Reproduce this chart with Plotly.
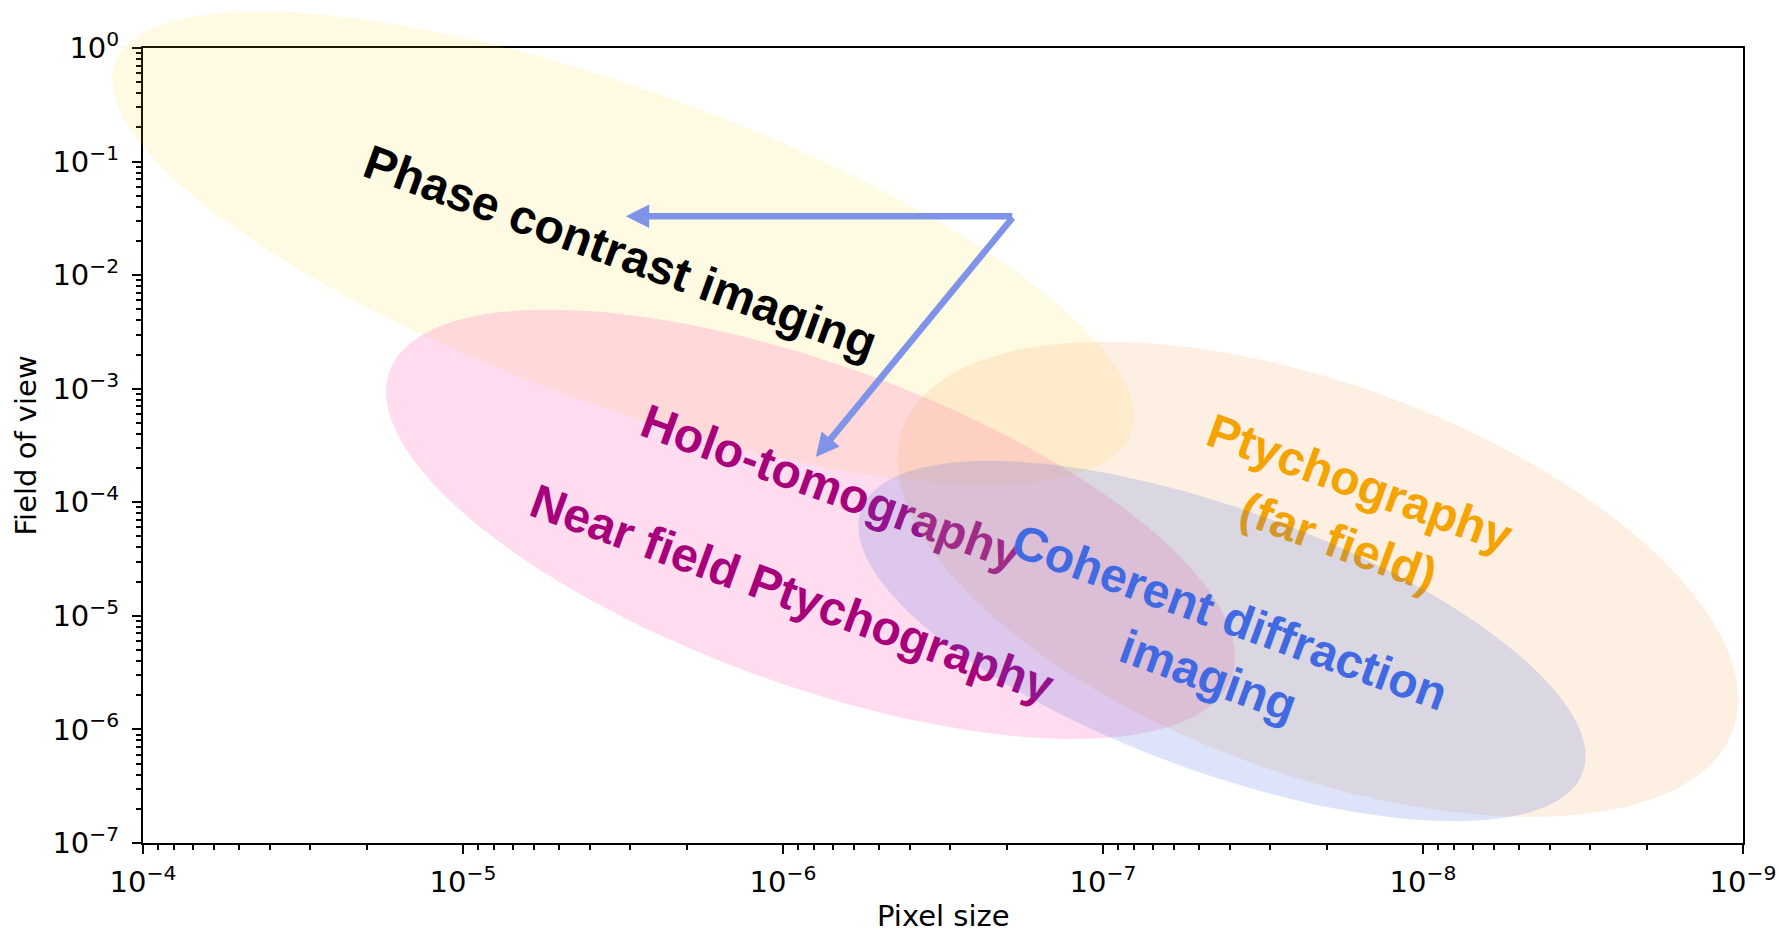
import numpy as np
import plotly.graph_objects as go

# ---- figure geometry (px) -------------------------------------------------
FIG_W, FIG_H = 1779, 932
PLOT_L, PLOT_R, PLOT_T, PLOT_B = 143, 1743, 48, 843

# log10 limits of the two axes
X_LOG = (-4, -9)   # pixel size, finer to the right
Y_LOG = (-7, 0)    # field of view

PX_PER_DEC_X = (PLOT_R - PLOT_L) / abs(X_LOG[1] - X_LOG[0])
PX_PER_DEC_Y = (PLOT_B - PLOT_T) / abs(Y_LOG[1] - Y_LOG[0])

# ---- data -----------------------------------------------------------------
# imaging regimes: centre of each region (pixel size, field of view)
regions = ["Phase contrast", "Holo-tomography / near field", "Far-field ptychography",
           "Coherent diffraction imaging"]
region_pixel = [3.16e-6, 8.2e-7, 2.13e-8, 4.25e-8]
region_fov = [1.73e-2, 6.4e-5, 2.1e-5, 6.0e-6]

# region labels and where they sit
label_text = ["Phase contrast imaging", "Holo-tomography", "Near field Ptychography",
              "Ptychography<br>(far field)", "Coherent diffraction<br>imaging"]
label_pixel = [3.18e-6, 6.98e-7, 9.25e-7, 1.68e-8, 4.28e-8]
label_fov = [1.75e-2, 1.49e-4, 1.73e-5, 8.95e-5, 5.9e-6]

# arrows from the phase-contrast regime
arrow_from = (1.9e-7, 3.3e-2)
arrow_to_pixel = [3.1e-6, 7.9e-7]
arrow_to_fov = [3.3e-2, 2.5e-4]

# decade tick positions (log10)
x_decades = [-4, -5, -6, -7, -8, -9]
y_decades = [-7, -6, -5, -4, -3, -2, -1, 0]

# ---- styles ---------------------------------------------------------------
# semi-axes in screen units of one pixel-size decade, tilt in degrees
region_shape = [(1.69, 0.49, 20), (1.40, 0.50, 20), (1.38, 0.61, 20), (1.20, 0.41, 20)]
region_fill = ["rgba(255,215,0,0.11)", "rgba(255,105,185,0.23)",
               "rgba(244,164,96,0.18)", "rgba(65,105,225,0.18)"]
label_color = ["#000000", "#A8007B", "#A8007B", "#F5A300", "#4169E1"]
label_region = [0, 1, 1, 2, 3]
TEXT_ANGLE = 20
ARROW_COLOR = "#7F93E8"
TICK_FONT = dict(family="DejaVu Sans", size=29, color="black")
TITLE_FONT = dict(family="DejaVu Sans", size=29, color="black")
EPS = 1e-5


def ellipse_path(cx, cy, a, b, angle_deg, n=160):
    """Closed SVG path of a tilted ellipse, in log10 units of the overlay axes."""
    t = np.linspace(0, 2 * np.pi, n, endpoint=False)
    th = np.deg2rad(angle_deg)
    u, v = a * np.cos(t), b * np.sin(t)
    right = u * np.cos(th) - v * np.sin(th)      # towards smaller pixel size
    down = u * np.sin(th) + v * np.cos(th)       # towards smaller field of view
    lx = np.log10(cx) - right
    ly = np.log10(cy) - down * PX_PER_DEC_X / PX_PER_DEC_Y
    pts = [f"{x:.5f},{y:.5f}" for x, y in zip(lx, ly)]
    return "M" + " L".join(pts) + " Z"


def power_label(e):
    return f"10<sup>{'−' if e < 0 else ''}{abs(e)}</sup>"


def minor_vals(decades):
    lo, hi = min(decades), max(decades)
    return [k * 10.0 ** d for d in range(lo, hi) for k in range(2, 10)]


# overlay axes span the whole page with the same log10 scale as the main axes
x2_range = [X_LOG[0] + PLOT_L / PX_PER_DEC_X, X_LOG[0] - (FIG_W - PLOT_L) / PX_PER_DEC_X]
y2_range = [Y_LOG[1] - (FIG_H - PLOT_T) / PX_PER_DEC_Y, Y_LOG[1] + PLOT_T / PX_PER_DEC_Y]

fig = go.Figure()
fig.add_trace(go.Scatter(x=[], y=[], xaxis="x", yaxis="y", showlegend=False, hoverinfo="skip"))
fig.add_trace(go.Scatter(x=[], y=[], xaxis="x2", yaxis="y2", showlegend=False, hoverinfo="skip"))

shapes = []
for i in range(len(regions)):
    a, b, ang = region_shape[i]
    shapes.append(dict(type="path", xref="x2", yref="y2", layer="above",
                       path=ellipse_path(region_pixel[i], region_fov[i], a, b, ang),
                       fillcolor=region_fill[i], line=dict(width=0)))
    for j in range(len(label_text)):
        if label_region[j] != i:
            continue
        lx, ly = np.log10(label_pixel[j]), np.log10(label_fov[j])
        shapes.append(dict(type="line", xref="x2", yref="y2", layer="above",
                           x0=lx - 0.001, x1=lx + 0.001, y0=ly, y1=ly,
                           line=dict(width=0, color="rgba(0,0,0,0)"),
                           label=dict(text=label_text[j], textangle=TEXT_ANGLE,
                                      textposition="middle", xanchor="center",
                                      yanchor="middle", padding=0,
                                      font=dict(family="Liberation Sans, Arial, sans-serif",
                                                size=48, weight="bold",
                                                color=label_color[j]))))

annotations = []
for px, fv in zip(arrow_to_pixel, arrow_to_fov):
    annotations.append(dict(x=np.log10(px), y=np.log10(fv), xref="x", yref="y",
                            ax=np.log10(arrow_from[0]), ay=np.log10(arrow_from[1]),
                            axref="x", ayref="y", text="", showarrow=True,
                            arrowhead=2, arrowsize=0.72, arrowwidth=6.5,
                            arrowcolor=ARROW_COLOR, standoff=0, startstandoff=0))

annotations.append(dict(text="Pixel size", x=(PLOT_L + PLOT_R) / 2 / FIG_W, y=-3 / FIG_H,
                        xref="paper", yref="paper", showarrow=False,
                        xanchor="center", yanchor="bottom", font=TITLE_FONT))
annotations.append(dict(text="Field of view", x=25 / FIG_W, y=1 - (PLOT_T + PLOT_B) / 2 / FIG_H,
                        xref="paper", yref="paper", showarrow=False, textangle=-90,
                        xanchor="center", yanchor="middle", font=TITLE_FONT))

axis_common = dict(type="log", showline=True, linecolor="black", linewidth=2, mirror=True,
                   ticks="outside", ticklen=9, tickwidth=2, tickcolor="black",
                   showgrid=False, zeroline=False, tickfont=TICK_FONT, automargin=False)

fig.update_layout(
    width=FIG_W, height=FIG_H,
    margin=dict(l=0, r=0, t=0, b=0),
    paper_bgcolor="white", plot_bgcolor="rgba(0,0,0,0)",
    showlegend=False,
    xaxis=dict(axis_common, range=[X_LOG[0] + EPS, X_LOG[1] - EPS],
               domain=[PLOT_L / FIG_W, PLOT_R / FIG_W], anchor="y",
               tickmode="array", tickvals=[10.0 ** d for d in x_decades],
               ticktext=[power_label(d) for d in x_decades], ticklabelstandoff=3,
               minor=dict(ticks="outside", ticklen=5, tickwidth=1.5, tickcolor="black",
                          tickmode="array", tickvals=minor_vals(x_decades), showgrid=False)),
    yaxis=dict(axis_common, range=[Y_LOG[0] - EPS, Y_LOG[1] + EPS],
               domain=[1 - PLOT_B / FIG_H, 1 - PLOT_T / FIG_H], anchor="x",
               tickmode="array", tickvals=[10.0 ** d for d in y_decades],
               ticktext=[power_label(d) for d in y_decades], ticklabelstandoff=7,
               minor=dict(ticks="outside", ticklen=5, tickwidth=1.5, tickcolor="black",
                          tickmode="array", tickvals=minor_vals(y_decades), showgrid=False)),
    xaxis2=dict(range=x2_range, domain=[0, 1], anchor="y2", visible=False, fixedrange=True),
    yaxis2=dict(range=y2_range, domain=[0, 1], anchor="x2", visible=False, fixedrange=True),
    shapes=shapes,
    annotations=annotations,
)

fig.write_html("out.html")
